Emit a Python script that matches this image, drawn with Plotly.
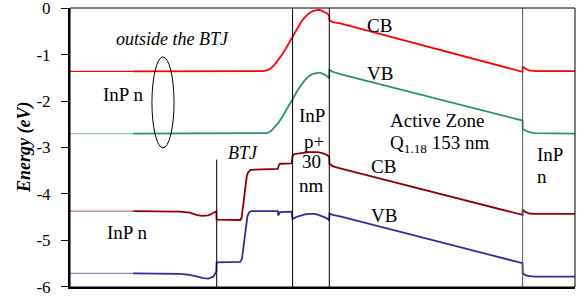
import plotly.graph_objects as go

# Position along the structure (nm) and band energies (eV)
cb_top_x = [0, 50, 150, 153, 156, 159, 162, 165, 168, 171, 174, 177, 180, 183, 186, 189, 192, 195, 198, 201, 203.5, 205.3,
            205.5, 208, 214, 358.4, 358.6, 361, 364, 368, 400]
cb_top_e = [-1.36, -1.36, -1.36, -1.355, -1.34, -1.30, -1.22, -1.12, -1.00, -0.87, -0.73, -0.58, -0.43, -0.30, -0.20,
            -0.12, -0.07, -0.045, -0.04, -0.07, -0.11, -0.16, -0.26, -0.30, -0.33, -1.37, -1.26, -1.31, -1.34, -1.355, -1.355]

vb_top_x = [0, 50, 150, 153, 156, 159, 162, 165, 168, 171, 174, 177, 180, 183, 186, 189, 192, 195, 198, 201, 203.5, 205.3,
            205.5, 208, 214, 358.4, 358.6, 361, 364, 368, 400]
vb_top_e = [-2.70, -2.70, -2.70, -2.70, -2.69, -2.65, -2.57, -2.47, -2.35, -2.22, -2.08, -1.93, -1.78, -1.65, -1.55,
            -1.47, -1.42, -1.40, -1.39, -1.42, -1.46, -1.51, -1.33, -1.37, -1.42, -2.42, -2.60, -2.64, -2.67, -2.69, -2.70]

cb_low_x = [0, 50, 87, 95, 100, 104.5, 109.5, 112, 114.3, 115.9, 116.1, 135, 136, 137, 138, 139, 140, 141, 143,
            164.6, 165.4, 166.5, 175.6, 176.2, 177, 180, 185, 190, 196, 200, 203.5, 205.3, 205.5, 208, 214,
            358.4, 358.6, 361, 364, 368, 400]
cb_low_e = [-4.37, -4.37, -4.38, -4.40, -4.45, -4.47, -4.46, -4.43, -4.39, -4.37, -4.55, -4.56, -4.50, -4.30, -4.05,
            -3.80, -3.62, -3.54, -3.48, -3.46, -3.38, -3.35, -3.34, -3.20, -3.15, -3.13, -3.11, -3.10, -3.10, -3.12,
            -3.16, -3.20, -3.35, -3.40, -3.45, -4.45, -4.34, -4.39, -4.42, -4.43, -4.43]

vb_low_x = [0, 50, 87, 95, 100.4, 105.6, 109.5, 113.5, 114.9, 115.9, 116.1, 134.7, 136.2, 137.4, 138.5, 139.4, 140.5,
            141.8, 143.5, 164.6, 164.9, 165.6, 166.2, 175.6, 176.2, 179, 182.2, 186, 190, 194, 196.7, 200, 203.3,
            205.3, 205.5, 208, 214, 358.4, 358.6, 361, 364, 368, 400]
vb_low_e = [-5.71, -5.71, -5.72, -5.74, -5.78, -5.81, -5.82, -5.78, -5.72, -5.66, -5.47, -5.46, -5.40, -5.15, -4.90,
            -4.65, -4.48, -4.40, -4.37, -4.37, -4.45, -4.44, -4.39, -4.38, -4.54, -4.50, -4.47, -4.44, -4.43, -4.43,
            -4.45, -4.48, -4.52, -4.57, -4.42, -4.45, -4.48, -5.49, -5.71, -5.75, -5.77, -5.78, -5.78]

region_bounds = [116.2, 176.3, 205.4, 358.5]
btj_line_top = -3.26

y_ticks = [0, -1, -2, -3, -4, -5, -6]
y_tick_text = ["0", "-1", "-2", "-3", "-4", "-5", "-6"]

SERIF = "Liberation Serif, Times New Roman, serif"

fig = go.Figure()

bands = [
    (cb_top_x, cb_top_e, "#ff0000", "rgba(255,0,0,1)"),
    (vb_top_x, vb_top_e, "#2e9460", "rgba(46,148,96,0.55)"),
    (cb_low_x, cb_low_e, "#8f0000", "rgba(143,0,0,0.55)"),
    (vb_low_x, vb_low_e, "#2e2e99", "rgba(46,46,153,0.55)"),
]
for xs, es, col, light in bands:
    fig.add_trace(go.Scatter(x=xs[:2], y=es[:2], mode="lines",
                             line=dict(color=light, width=1.3), showlegend=False, hoverinfo="skip"))
    fig.add_trace(go.Scatter(x=xs[1:], y=es[1:], mode="lines",
                             line=dict(color=col, width=1.8), showlegend=False))

shapes = []
for i, b in enumerate(region_bounds):
    shapes.append(dict(type="line", xref="x", yref="y", x0=b, x1=b,
                       y0=-6, y1=btj_line_top if i == 0 else 0,
                       line=dict(color="#555555" if i == 3 else "black", width=1)))
# ellipse
shapes.append(dict(type="circle", xref="x", yref="y", x0=64.9, x1=82.4, y0=-3.01, y1=-1.05,
                   line=dict(color="black", width=1)))
# frame (top/right)
shapes.append(dict(type="rect", xref="paper", yref="paper", x0=0, x1=1, y0=0, y1=1,
                   line=dict(color="black", width=1)))

fs = 19
ann = []
def t(x, y, s, italic=False, xanchor="center", size=fs):
    if italic:
        s = "<i>" + s + "</i>"
    ann.append(dict(x=x, y=y, xref="x", yref="y", text=s, showarrow=False, xanchor=xanchor,
                    yanchor="middle", font=dict(family=SERIF, size=size, color="black")))

t(80.8, -0.66, "outside the BTJ", italic=True, size=18)
t(42.0, -1.85, "InP n")
t(45.1, -4.83, "InP n")
t(137.0, -3.12, "BTJ", italic=True, size=18)
t(191.5, -2.32, "InP")
t(193.0, -2.88, "p+")
t(191.5, -3.31, "30")
t(191.5, -3.81, "nm")
t(245.5, -0.37, "CB")
t(245.5, -1.41, "VB")
t(251.9, -2.42, "Active Zone", xanchor="left")
t(251.9, -2.93, "Q<sub>1.18</sub> 153 nm", xanchor="left")
t(248.7, -3.40, "CB")
t(248.7, -4.47, "VB")
t(368.3, -3.16, "InP", xanchor="left")
t(368.3, -3.63, "n", xanchor="left")

ann.append(dict(x=-0.09, y=0.5, xref="paper", yref="paper", text="<b><i>Energy (eV)</i></b>",
                textangle=-90, showarrow=False, xanchor="center", yanchor="middle",
                font=dict(family=SERIF, size=18, color="black")))

fig.update_layout(
    width=586, height=300,
    margin=dict(l=70, r=11, t=8, b=13),
    paper_bgcolor="white", plot_bgcolor="white",
    shapes=shapes, annotations=ann,
    xaxis=dict(range=[0, 400], showgrid=False, zeroline=False, showticklabels=False, ticks="",
               showline=True, linecolor="black", linewidth=2, automargin=False),
    yaxis=dict(range=[-6.002, 0.002], showgrid=False, zeroline=False, tickvals=y_ticks, ticktext=y_tick_text,
               ticks="outside", ticklen=7, tickwidth=1, tickcolor="black", ticklabelstandoff=7,
               ticklabeloverflow="allow",
               tickfont=dict(family=SERIF, size=17, color="black"), automargin=False,
               showline=True, linecolor="black", linewidth=2),
)

fig.write_html("out.html", post_script="document.body.style.margin='0';",
               config={"displayModeBar": False})
